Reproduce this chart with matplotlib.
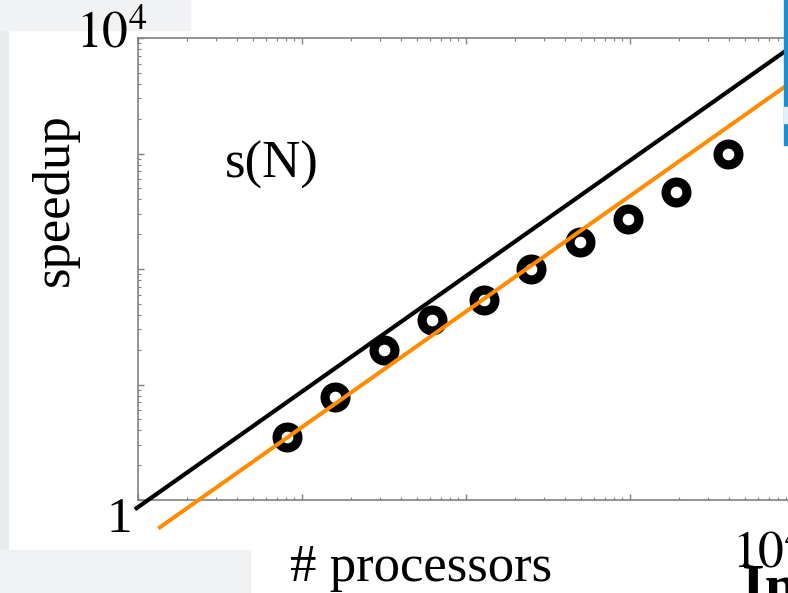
import matplotlib.pyplot as plt
from matplotlib.patches import Rectangle

plt.rcParams['font.family'] = ['Liberation Serif', 'DejaVu Serif']
plt.rcParams['mathtext.fontset'] = 'stix'

# measured speedup s(N) vs number of processors
procs = [8.1, 15.9, 31.6, 62, 129, 249, 496, 972, 1906, 3960]
speedup = [3.5, 7.8, 19.9, 36, 54, 100, 171, 271, 464, 991]

# reference lines (slope 1 on log-log)
line_n = [0.98, 10000]
ideal = [0.85, 8700]
fit_n = [1.36, 10000]
fit = [0.58, 4300]

W, H = 788, 593
fig = plt.figure(figsize=(W / 100, H / 100), dpi=100)
fig.patch.set_facecolor('white')


def fx(px):
    return px / W


def fy(py):
    return 1 - py / H


# slide background bits around the white box
fig.patches.append(Rectangle((0, 0), fx(8), 1, transform=fig.transFigure,
                             color='#e8ebec', zorder=0))
fig.patches.append(Rectangle((0, fy(30)), fx(190), fy(0) - fy(30),
                             transform=fig.transFigure, color='#f1f2f3', zorder=0))
fig.patches.append(Rectangle((0, 0), fx(250), fy(550), transform=fig.transFigure,
                             color='#f0f1f2', zorder=0))
fig.patches.append(Rectangle((fx(784), fy(145)), fx(4), fy(0) - fy(145),
                             transform=fig.transFigure, color='#1a8ed2', zorder=0))
fig.patches.append(Rectangle((fx(784), fy(123)), fx(4), fy(107) - fy(123),
                             transform=fig.transFigure, color='#dff1fb', zorder=0))

ax = fig.add_axes([fx(138), fy(500), fx(794) - fx(138), fy(38) - fy(500)])
ax.set_facecolor('none')
ax.set_xscale('log')
ax.set_yscale('log')
ax.set_xlim(1, 1e4)
ax.set_ylim(1, 1e4)

ax.plot(line_n, ideal, color='black', lw=3, clip_on=False, zorder=3)
ax.plot(procs, speedup, 'o', ms=15, mew=6.6, mec='black', mfc='white',
        clip_on=False, zorder=2)
ax.plot(fit_n, fit, color='#ff8c00', lw=2.9, clip_on=False, zorder=4)

for side in ['left', 'bottom', 'top']:
    ax.spines[side].set_color('#808080')
    ax.spines[side].set_linewidth(1.2)
ax.spines['right'].set_visible(False)
ax.tick_params(which='both', direction='in', colors='#808080', top=True,
               right=False, labelbottom=False, labelleft=False)
ax.tick_params(which='major', length=4, width=1)
ax.tick_params(which='minor', length=2.5, width=0.8)

# tick labels and texts from the slide
fig.text(fx(76), fy(48), r'$10^4$', fontsize=37, ha='left', va='baseline')
fig.text(fx(107), fy(532), '1', fontsize=37, ha='left', va='baseline')
fig.text(fx(732), fy(568), r'$10^4$', fontsize=37, ha='left', va='baseline')
fig.text(fx(290), fy(581), '# processors', fontsize=38, ha='left', va='baseline')
fig.text(fx(55), fy(200), 'speedup', fontsize=38, rotation=90,
         ha='center', va='center')
fig.text(fx(225), fy(178), 's(N)', fontsize=38, ha='left', va='baseline')
fig.text(fx(742), fy(604), 'In', fontsize=42, fontweight='bold',
         ha='left', va='baseline')

fig.savefig('out.png', dpi=100)
